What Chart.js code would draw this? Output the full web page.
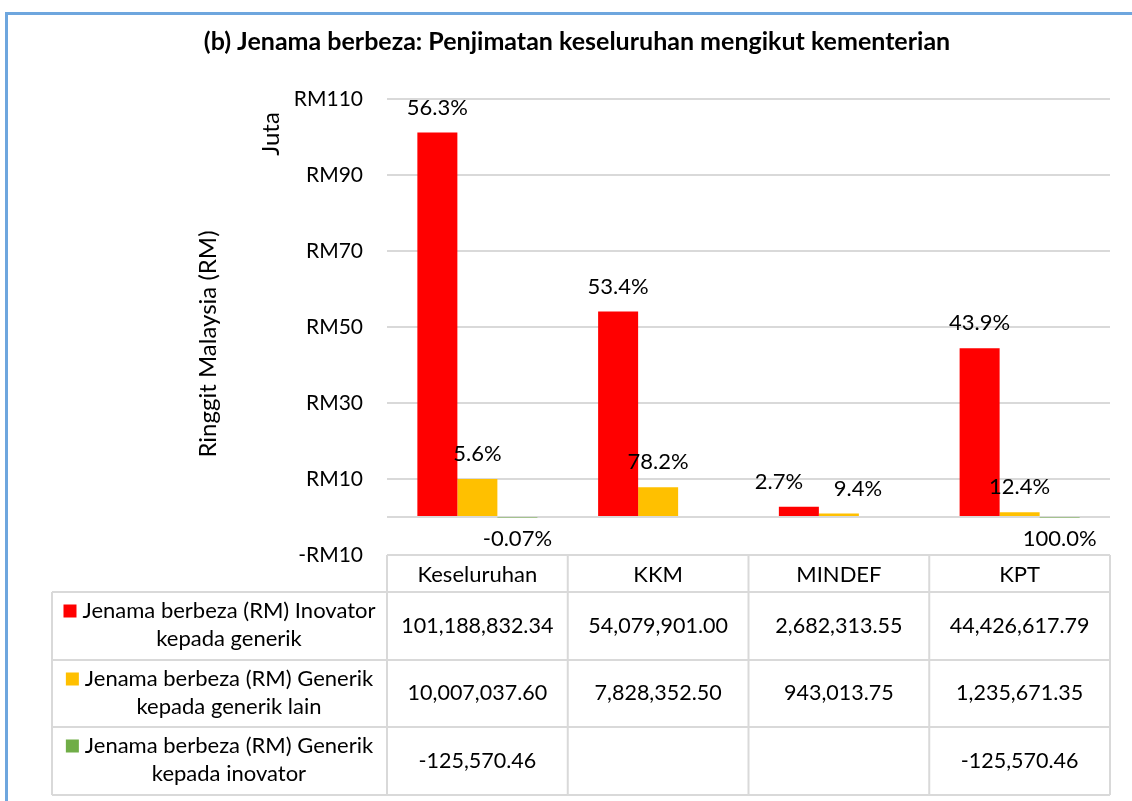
<!DOCTYPE html>
<html>
<head>
<meta charset="utf-8">
<script src="https://cdn.jsdelivr.net/npm/chart.js@4"></script>
<style>
html,body{margin:0;padding:0;background:#fff;}
canvas{display:block;}
</style>
</head>
<body>
<canvas id="c" width="1132" height="801"></canvas>
<script>
// ---- data ----
const categories = ["Keseluruhan", "KKM", "MINDEF", "KPT"];
const seriesNames = [
  ["Jenama berbeza (RM) Inovator", "kepada generik"],
  ["Jenama berbeza (RM) Generik", "kepada generik lain"],
  ["Jenama berbeza (RM) Generik", "kepada inovator"]
];
const inovatorGenerik = [101188832.34, 54079901.00, 2682313.55, 44426617.79];
const generikGenerikLain = [10007037.60, 7828352.50, 943013.75, 1235671.35];
const generikInovator = [-125570.46, null, null, -125570.46];
const pctInovatorGenerik = ["56.3%", "53.4%", "2.7%", "43.9%"];
const pctGenerikGenerikLain = ["5.6%", "78.2%", "9.4%", "12.4%"];
const pctGenerikInovator = ["-0.07%", null, null, "100.0%"];
const yTicks = [-10, 0, 10, 30, 50, 70, 90, 110];

const colors = ["#ff0000", "#ffc000", "#70ad47"];
const FONT = "Lato, 'Noto Sans', sans-serif";
const series = [inovatorGenerik, generikGenerikLain, generikInovator];
const pcts = [pctInovatorGenerik, pctGenerikGenerikLain, pctGenerikInovator];

function fmt(v){
  if (v === null || v === undefined) return "";
  return v.toLocaleString("en-US", {minimumFractionDigits: 2, maximumFractionDigits: 2});
}

// horizontal nudges for crowded labels (dataset-index, category-index)
const labelNudge = { "0-2": -20, "1-2": 19 };

const decor = {
  id: "decor",
  beforeDraw(chart){
    const ctx = chart.ctx;
    ctx.save();
    ctx.fillStyle = "#fff";
    ctx.fillRect(0, 0, chart.width, chart.height);
    // frame
    ctx.strokeStyle = "#6ea6de";
    ctx.lineWidth = 3;
    ctx.beginPath();
    ctx.moveTo(6.5, 801);
    ctx.lineTo(6.5, 13.5);
    ctx.lineTo(1132, 13.5);
    ctx.stroke();
    // title
    ctx.fillStyle = "#000";
    ctx.font = "bold 25px " + FONT;
    ctx.textAlign = "center";
    ctx.textBaseline = "middle";
    ctx.fillText("(b) Jenama berbeza: Penjimatan keseluruhan mengikut kementerian", 577, 42);
    // axis title
    ctx.font = "24px " + FONT;
    ctx.save();
    ctx.translate(208, 344);
    ctx.rotate(-Math.PI / 2);
    ctx.fillText("Ringgit Malaysia (RM)", 0, 0);
    ctx.restore();
    ctx.save();
    ctx.translate(271, 134);
    ctx.rotate(-Math.PI / 2);
    ctx.fillText("Juta", 0, 0);
    ctx.restore();
    ctx.restore();
  },
  beforeDatasetsDraw(chart){
    const ctx = chart.ctx;
    const y = chart.scales.y;
    const a = chart.chartArea;
    ctx.save();
    ctx.strokeStyle = "#d9d9d9";
    ctx.lineWidth = 2;
    ctx.beginPath();
    const py = Math.round(y.getPixelForValue(0));
    ctx.moveTo(a.left, py);
    ctx.lineTo(a.right, py);
    ctx.stroke();
    ctx.restore();
  },
  afterDatasetsDraw(chart){
    const ctx = chart.ctx;
    ctx.save();
    ctx.fillStyle = "#000";
    ctx.font = "22px " + FONT;
    ctx.textAlign = "center";
    ctx.textBaseline = "middle";
    chart.data.datasets.forEach((ds, di) => {
      const meta = chart.getDatasetMeta(di);
      meta.data.forEach((el, i) => {
        const v = ds.data[i];
        const t = pcts[di][i];
        if (v === null || !t) return;
        const ly = v >= 0 ? el.y - 25 : el.y + 21;
        const dx = labelNudge[di + "-" + i] || 0;
        ctx.fillText(t, el.x + dx, ly);
      });
    });
    ctx.restore();
  },
  afterDraw(chart){
    const ctx = chart.ctx;
    const x = chart.scales.x;
    const a = chart.chartArea;
    const n = categories.length;
    const cw = (a.right - a.left) / n;
    const cols = [];
    for (let i = 0; i <= n; i++) cols.push(a.left + cw * i);
    const tableLeft = 52;
    const rows = [a.bottom, 592, 660, 727, 795];
    ctx.save();
    ctx.strokeStyle = "#d9d9d9";
    ctx.lineWidth = 2;
    ctx.beginPath();
    ctx.moveTo(a.left, rows[0]); ctx.lineTo(a.right, rows[0]);
    for (let r = 1; r < rows.length; r++) {
      ctx.moveTo(tableLeft, rows[r]); ctx.lineTo(a.right, rows[r]);
    }
    ctx.moveTo(tableLeft, rows[1]); ctx.lineTo(tableLeft, rows[4]);
    cols.forEach(c => { ctx.moveTo(c, rows[0]); ctx.lineTo(c, rows[4]); });
    ctx.stroke();

    ctx.fillStyle = "#000";
    ctx.font = "22px " + FONT;
    ctx.textAlign = "center";
    ctx.textBaseline = "middle";
    categories.forEach((c, i) => {
      ctx.fillText(c, x.getPixelForValue(i), (rows[0] + rows[1]) / 2 + 1);
    });
    series.forEach((s, si) => {
      const top = rows[si + 1], bot = rows[si + 2];
      const mid = (top + bot) / 2;
      ctx.font = "21.5px " + FONT;
      s.forEach((v, i) => {
        if (v === null) return;
        ctx.fillText(fmt(v), x.getPixelForValue(i), mid);
      });
      ctx.font = "22px " + FONT;
      const lines = seriesNames[si];
      const w = Math.max(...lines.map(l => ctx.measureText(l).width));
      const sq = 13, gap = 6;
      const total = sq + gap + w;
      const left = (tableLeft + a.left) / 2 - total / 2;
      const tc = left + sq + gap + w / 2;
      const l1 = top + 19, l2 = top + 47;
      ctx.fillStyle = colors[si];
      ctx.fillRect(left, l1 - 6.5, sq, sq);
      ctx.fillStyle = "#000";
      ctx.fillText(lines[0], tc, l1);
      ctx.fillText(lines[1], tc, l2);
    });
    ctx.restore();
  }
};

new Chart(document.getElementById("c"), {
  type: "bar",
  data: {
    labels: categories,
    datasets: series.map((s, i) => ({
      label: seriesNames[i].join(" "),
      data: s.map(v => v === null ? null : v / 1e6),
      backgroundColor: colors[i],
      borderWidth: 0,
      categoryPercentage: 0.664,
      barPercentage: 1.0
    }))
  },
  options: {
    responsive: false,
    animation: false,
    devicePixelRatio: 1,
    layout: { padding: { left: 0, top: 99, right: 22, bottom: 246 } },
    plugins: { legend: { display: false }, title: { display: false }, tooltip: { enabled: false } },
    scales: {
      x: { display: false },
      y: {
        min: -10,
        max: 110,
        afterBuildTicks(s){ s.ticks = yTicks.map(v => ({ value: v })); },
        afterFit(s){ s.width = 387; },
        border: { display: false },
        grid: {
          drawTicks: false,
          lineWidth: 2,
          color: c => (c.tick && (c.tick.value === -10 || c.tick.value === 0)) ? "rgba(0,0,0,0)" : "#d9d9d9"
        },
        ticks: {
          padding: 24,
          color: "#000",
          font: { family: FONT, size: 21 },
          callback: v => v === 0 ? "" : (v < 0 ? "-RM" + (-v) : "RM" + v)
        }
      }
    }
  },
  plugins: [decor]
});
</script>
</body>
</html>
